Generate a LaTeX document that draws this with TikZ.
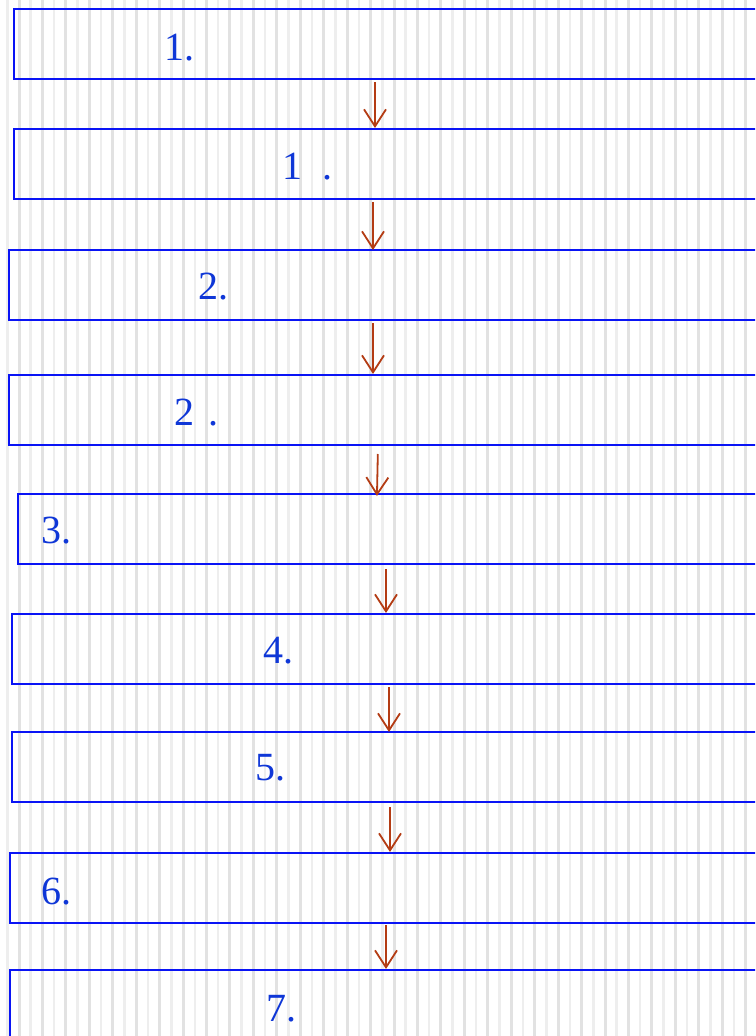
\documentclass[tikz,border=0pt]{standalone}
\usepackage{fontspec}
\setmainfont{Liberation Serif}
\usetikzlibrary{arrows.meta}
\definecolor{boxblue}{RGB}{10,20,245}
\definecolor{txtblue}{RGB}{15,55,215}
\definecolor{arrred}{RGB}{180,60,20}
\definecolor{stripedark}{RGB}{226,226,226}
\definecolor{stripelight}{RGB}{238,238,238}
\tikzset{
  flowbox/.style={draw=boxblue, line width=2pt, minimum width=820pt, minimum height=70pt, inner sep=0pt, anchor=north west},
  lbl/.style={text=txtblue, font=\fontsize{40}{48}\selectfont, inner sep=0pt, anchor=base west},
  arr/.style={draw=arrred, line width=1.8pt, -{Straight Barb[length=17pt,width=22pt]}}
}
\begin{document}
\begin{tikzpicture}[x=1pt,y=-1pt]
\useasboundingbox (0,0) rectangle (755,1036);
\clip (0,0) rectangle (755,1036);
\fill[white] (0,0) rectangle (755,1036);
\foreach \i in {0,...,32} {
  \fill[stripelight] ({6+\i*23.44},0) rectangle ({8.5+\i*23.44},1036);
  \fill[stripedark] ({17.5+\i*23.44},0) rectangle ({20.5+\i*23.44},1036);
}
% boxes
\node[flowbox] (b1) at (13,8) {};
\node[flowbox] (b2) at (13,128) {};
\node[flowbox] (b3) at (8,249) {};
\node[flowbox] (b4) at (8,374) {};
\node[flowbox] (b5) at (17,493) {};
\node[flowbox] (b6) at (11,613) {};
\node[flowbox] (b7) at (11,731) {};
\node[flowbox] (b8) at (9,852) {};
\node[flowbox] (b9) at (9,969) {};
% labels
\node[lbl] (t1) at (164,60) {1.};
\node[lbl] (t2) at (282,179) {1\hspace{20pt}.};
\node[lbl] (t3) at (198,299) {2.};
\node[lbl] (t4) at (174,425) {2\hspace{14pt}.};
\node[lbl] (t5) at (41,543) {3.};
\node[lbl] (t6) at (263,663) {4.};
\node[lbl] (t7) at (255,780) {5.};
\node[lbl] (t8) at (41,904) {6.};
\node[lbl] (t9) at (266,1021) {7.};
% arrows
\draw[arr, shorten <=2pt] (375,0 |- b1.south) -- (375,0 |- b2.north);
\draw[arr, shorten <=2pt, shorten >=-1pt] (373,0 |- b2.south) -- (373,0 |- b3.north);
\draw[arr, shorten <=2pt] (373,0 |- b3.south) -- (373,0 |- b4.north);
\draw[arr, shorten <=8pt, shorten >=-3pt] (378,0 |- b4.south) -- (377,0 |- b5.north);
\draw[arr, shorten <=4pt] (386,0 |- b5.south) -- (386,0 |- b6.north);
\draw[arr, shorten <=2pt, shorten >=-1pt] (389,0 |- b6.south) -- (389,0 |- b7.north);
\draw[arr, shorten <=4pt] (390,0 |- b7.south) -- (390,0 |- b8.north);
\draw[arr, shorten <=1pt] (386,0 |- b8.south) -- (386,0 |- b9.north);
\end{tikzpicture}
\end{document}
